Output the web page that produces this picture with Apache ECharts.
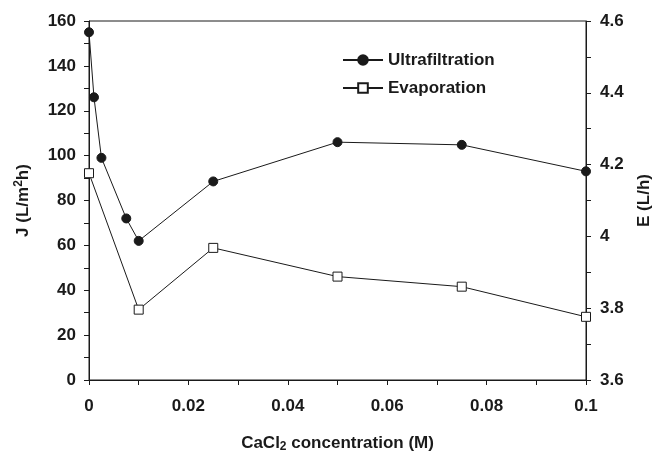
<!DOCTYPE html>
<html>
<head>
<meta charset="utf-8">
<script src="https://cdn.jsdelivr.net/npm/echarts@6/dist/echarts.min.js"></script>
<style>
  html, body { margin: 0; padding: 0; background: #fff; overflow: hidden; }
  #chart { width: 654px; height: 459px; }
</style>
</head>
<body>
<div id="chart"></div>
<script>
// CaCl2 concentration (M) for each measurement
const ufConc = [0, 0.001, 0.0025, 0.0075, 0.01, 0.025, 0.05, 0.075, 0.1];
// Permeate flux J (L/m2h), ultrafiltration
const ufFlux = [155, 126, 99, 72, 62, 88.5, 106, 104.8, 93];

const evConc = [0, 0.01, 0.025, 0.05, 0.075, 0.1];
// Evaporation rate E (L/h)
const evRate = [4.176, 3.796, 3.968, 3.888, 3.86, 3.776];

const seriesNames = ['Ultrafiltration', 'Evaporation'];

const ink = '#1a1a1a';
const font = 'Liberation Sans, Arial, Helvetica, sans-serif';
const fs = 17;

const pair = (xs, ys) => xs.map((x, i) => [x, ys[i]]);

const axisCommon = {
  axisLine: { show: true, lineStyle: { color: ink, width: 1 } },
  axisTick: { show: true, inside: false, length: 5, lineStyle: { color: ink, width: 1 } },
  minorTick: { show: true, splitNumber: 2, length: 5, lineStyle: { color: ink, width: 1 } },
  splitLine: { show: false },
  axisLabel: { color: ink, fontFamily: font, fontWeight: 'bold', fontSize: fs },
  nameTextStyle: { color: ink, fontFamily: font, fontWeight: 'bold', fontSize: fs }
};

const chart = echarts.init(document.getElementById('chart'), null, { renderer: 'canvas', width: 654, height: 459 });

chart.setOption({
  animation: false,
  backgroundColor: '#fff',
  grid: {
    left: 89, right: 68, top: 21, bottom: 79,
    containLabel: false,
    outerBoundsMode: 'none',
    show: true, borderColor: ink, borderWidth: 1, backgroundColor: 'transparent'
  },
  legend: {
    orient: 'vertical',
    left: 342, top: 50, padding: 0,
    itemWidth: 40, itemHeight: 12, itemGap: 8,
    textStyle: { color: ink, fontFamily: font, fontWeight: 'bold', fontSize: fs, lineHeight: 20 },
    data: seriesNames
  },
  xAxis: Object.assign({}, axisCommon, {
    type: 'value', min: 0, max: 0.1, interval: 0.02,
    name: '{a|CaCl}{s|2}{a| concentration (M)}',
    nameLocation: 'middle', nameGap: 53,
    nameTextStyle: {
      rich: {
        a: { color: ink, fontFamily: font, fontWeight: 'bold', fontSize: fs },
        s: { color: ink, fontFamily: font, fontWeight: 'bold', fontSize: 12, padding: [8, 0, 0, 0] }
      }
    },
    axisLabel: Object.assign({}, axisCommon.axisLabel, { margin: 18 })
  }),
  yAxis: [
    Object.assign({}, axisCommon, {
      type: 'value', position: 'left', min: 0, max: 160, interval: 20,
      name: '{a|J (L/m}{s|2}{a|h)}',
      nameLocation: 'middle', nameGap: 56, nameRotate: 90,
      nameTextStyle: {
        rich: {
          a: { color: ink, fontFamily: font, fontWeight: 'bold', fontSize: fs },
          s: { color: ink, fontFamily: font, fontWeight: 'bold', fontSize: 12, padding: [0, 0, 8, 0] }
        }
      },
      axisLabel: Object.assign({}, axisCommon.axisLabel, { margin: 13 })
    }),
    Object.assign({}, axisCommon, {
      type: 'value', position: 'right', min: 3.6, max: 4.6, interval: 0.2,
      name: 'E (L/h)',
      nameLocation: 'middle', nameGap: 50, nameRotate: 90,
      axisLabel: Object.assign({}, axisCommon.axisLabel, {
        margin: 14,
        formatter: v => String(Math.round(v * 10) / 10)
      })
    })
  ],
  series: [
    {
      name: seriesNames[0], type: 'line', yAxisIndex: 0,
      data: pair(ufConc, ufFlux),
      symbol: 'circle', symbolSize: 9,
      lineStyle: { color: ink, width: 1 },
      itemStyle: { color: ink, borderColor: ink, borderWidth: 1 }
    },
    {
      name: seriesNames[1], type: 'line', yAxisIndex: 1,
      data: pair(evConc, evRate),
      symbol: 'rect', symbolSize: 9,
      lineStyle: { color: ink, width: 1 },
      itemStyle: { color: '#fff', borderColor: ink, borderWidth: 1 }
    }
  ]
});
</script>
</body>
</html>
